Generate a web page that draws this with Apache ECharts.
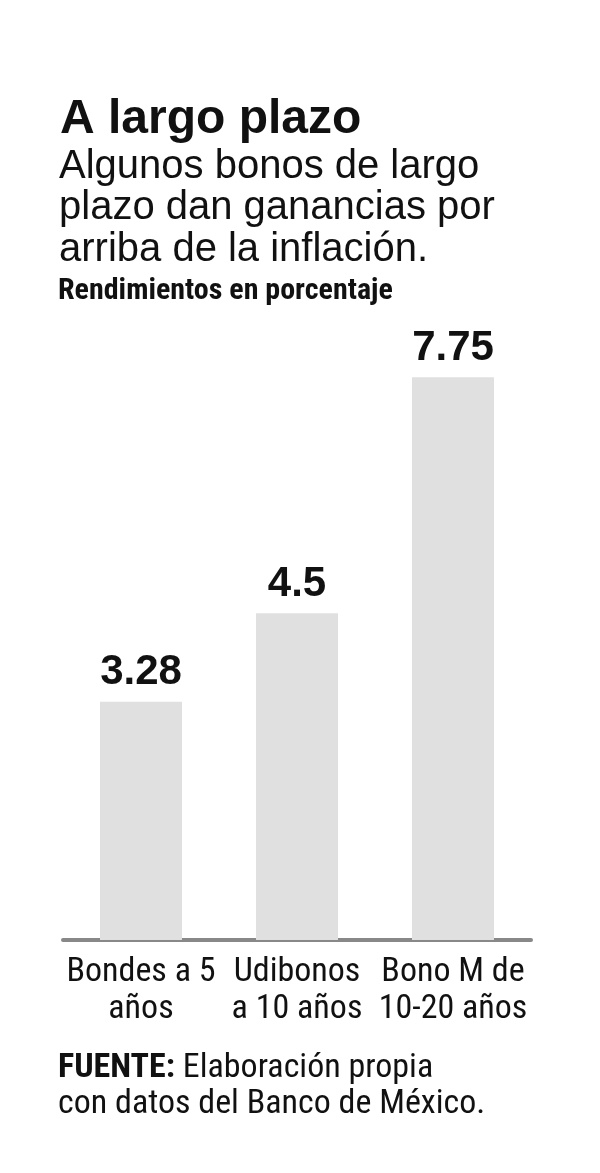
<!DOCTYPE html>
<html>
<head>
<meta charset="utf-8">
<script src="https://cdn.jsdelivr.net/npm/echarts@6/dist/echarts.min.js"></script>
<style>
  html, body { margin: 0; padding: 0; background: #fff; }
  #chart { width: 600px; height: 1173px; }
</style>
</head>
<body>
<div id="chart"></div>
<script>
var CATEGORIES = ['Bondes a 5\naños', 'Udibonos\na 10 años', 'Bono M de\n10-20 años'];
var VALUES = [3.28, 4.5, 7.75];
var VALUE_LABELS = ['3.28', '4.5', '7.75'];

var NARROW = '"Liberation Sans Narrow", "Arial Narrow", "Roboto Condensed", "Liberation Sans", sans-serif';
var SANS = '"Liberation Sans", Arial, sans-serif';

function buildBars() {
    var out = [];
    for (var i = 0; i < VALUES.length; i++) {
        out.push({ value: VALUES[i], label: { formatter: VALUE_LABELS[i] } });
    }
    return out;
}

var chart = echarts.init(document.getElementById('chart'), null, { renderer: 'canvas' });

var option = {
    backgroundColor: '#ffffff',
    animation: false,
    title: [{
        text: 'A largo plazo',
        left: 60,
        top: 96,
        padding: 0,
        textStyle: { fontFamily: SANS, fontWeight: 900, fontSize: 48, color: '#111', lineHeight: 48 }
    }, {
        text: 'Algunos bonos de largo\nplazo dan ganancias por\narriba de la inflación.',
        left: 59,
        top: 146,
        padding: 0,
        textStyle: { fontFamily: SANS, fontWeight: 'normal', fontSize: 40, color: '#111', lineHeight: 41.5 }
    }, {
        text: 'Rendimientos en porcentaje',
        left: 58,
        top: 276,
        padding: 0,
        textStyle: { fontFamily: NARROW, fontWeight: 'bold', fontSize: 30, color: '#111', lineHeight: 30 }
    }, {
        text: '{b|FUENTE:} Elaboración propia\ncon datos del Banco de México.',
        left: 58,
        top: 1050,
        padding: 0,
        textStyle: {
            fontFamily: NARROW, fontWeight: 'normal', fontSize: 34, color: '#111', lineHeight: 36,
            rich: { b: { fontFamily: NARROW, fontWeight: 'bold', fontSize: 34, color: '#111', lineHeight: 36 } }
        }
    }],
    grid: { left: 63, right: 69, top: 214, bottom: 233, containLabel: false },
    xAxis: {
        type: 'category',
        data: CATEGORIES,
        axisLine: { show: true, lineStyle: { color: '#888', width: 4 } },
        axisTick: { show: false },
        axisLabel: {
            margin: 14,
            fontFamily: NARROW,
            fontSize: 34,
            lineHeight: 37,
            color: '#111',
            interval: 0
        }
    },
    yAxis: {
        type: 'value',
        min: 0,
        max: 10,
        show: false,
        splitLine: { show: false }
    },
    series: [{
        type: 'bar',
        data: buildBars(),
        barWidth: 82,
        itemStyle: { color: '#e0e0e0' },
        label: {
            show: true,
            position: 'top',
            distance: 8,
            fontFamily: SANS,
            fontWeight: 'bold',
            fontSize: 42,
            color: '#111'
        }
    }]
};

chart.setOption(option);
</script>
</body>
</html>
